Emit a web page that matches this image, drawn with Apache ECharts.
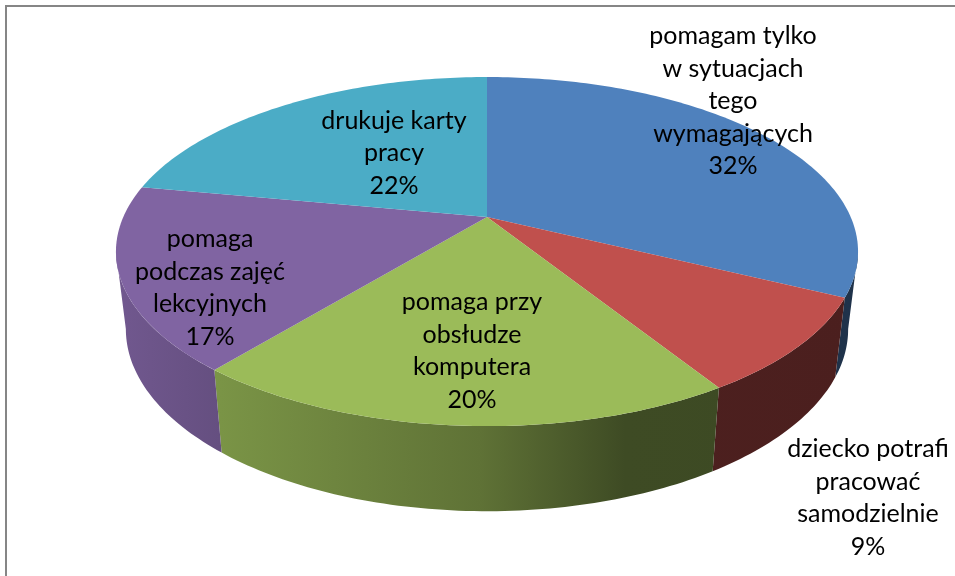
<!DOCTYPE html>
<html>
<head>
<meta charset="utf-8">
<script src="https://cdn.jsdelivr.net/npm/echarts@6/dist/echarts.min.js"></script>
<style>
html, body { margin: 0; padding: 0; background: #fff; }
#chart { width: 955px; height: 576px; }
</style>
</head>
<body>
<div id="chart"></div>
<script>
// Data (the labels show these rounded)
var names = [
	'pomagam tylko\nw sytuacjach\ntego\nwymagających',
	'dziecko potrafi\npracować\nsamodzielnie',
	'pomaga przy\nobsłudze\nkomputera',
	'pomaga\npodczas zajęć\nlekcyjnych',
	'drukuje karty\npracy'
];
var values = [32.25, 8.85, 19.85, 17, 22.05];

// Slice colours and hand placed label centres (same order as the data)
var colors = ['#4F81BD', '#C0504D', '#9BBB59', '#8064A2', '#4BACC6'];
var labelCentres = [[733, 101], [868, 498], [472, 351], [210, 288], [394, 153]];

// Perspective of the tilted disc: top face and bottom face of the cake
var topFace = { cx: 487, cy: 217, a: 363.7, b: 167.7, k: 0.198 };
var bottomFace = { cx: 487, cy: 293, a: 354, b: 175, k: 0.198 };
// The front wall is visible between these two angles
var wallFrom = 101.4, wallTo = 258.6;
// Light across the wall, [x, brightness]
var wallLight = [[116, 0.88], [220, 0.79], [480, 0.61], [625, 0.40], [858, 0.39]];

var total = values.reduce(function (s, v) { return s + v; }, 0);

function project(face, deg) {
	var t = deg * Math.PI / 180;
	var u = Math.sin(t), v = -Math.cos(t);
	var w = 1 - face.k * v;
	return [face.cx + face.a * u / w, face.cy + face.b * v / w];
}

function arc(face, from, to) {
	var pts = [];
	var n = Math.max(1, Math.ceil(Math.abs(to - from)));
	for (var i = 0; i <= n; i++) {
		pts.push(project(face, from + (to - from) * i / n));
	}
	return pts;
}

function shade(color, f) {
	var c = echarts.color.parse(color);
	return 'rgb(' + Math.round(c[0] * f) + ',' + Math.round(c[1] * f) + ',' + Math.round(c[2] * f) + ')';
}

function wallFill(color) {
	var x0 = wallLight[0][0], x1 = wallLight[wallLight.length - 1][0];
	var stops = wallLight.map(function (s) {
		return { offset: (s[0] - x0) / (x1 - x0), color: shade(color, s[1]) };
	});
	return new echarts.graphic.LinearGradient(x0, 0, x1, 0, stops, true);
}

function renderSlice(params, api) {
	var i = params.dataIndex;
	var before = 0;
	for (var j = 0; j < i; j++) before += values[j];
	var from = before / total * 360;
	var to = (before + api.value(0)) / total * 360;
	var children = [];

	// side wall, only the part facing us
	var a = Math.max(from, wallFrom), b = Math.min(to, wallTo);
	if (b > a) {
		children.push({
			type: 'polygon',
			z2: 1,
			shape: { points: arc(topFace, a, b).concat(arc(bottomFace, b, a)) },
			style: { fill: wallFill(colors[i]) }
		});
	}
	// top face
	children.push({
		type: 'polygon',
		z2: 2,
		shape: { points: [[topFace.cx, topFace.cy]].concat(arc(topFace, from, to)) },
		style: { fill: colors[i] }
	});
	// label
	children.push({
		type: 'text',
		z2: 3,
		style: {
			x: labelCentres[i][0],
			y: labelCentres[i][1],
			text: names[i] + '\n' + Math.round(api.value(0)) + '%',
			fill: '#000',
			font: '25px Lato',
			lineHeight: 32.5,
			align: 'center',
			verticalAlign: 'middle'
		}
	});
	return { type: 'group', children: children };
}

var myChart = echarts.init(document.getElementById('chart'), null, { renderer: 'canvas' });

var option = {
	animation: false,
	backgroundColor: '#fff',
	graphic: [
		{
			type: 'polyline',
			shape: { points: [[6, 576], [6, 6], [955, 6]] },
			style: { stroke: '#868686', lineWidth: 2, fill: null }
		}
	],
	series: [
		{
			type: 'custom',
			coordinateSystem: 'none',
			renderItem: renderSlice,
			data: values.map(function (v, i) { return { name: names[i], value: [v] }; })
		}
	]
};

myChart.setOption(option);
</script>
</body>
</html>
